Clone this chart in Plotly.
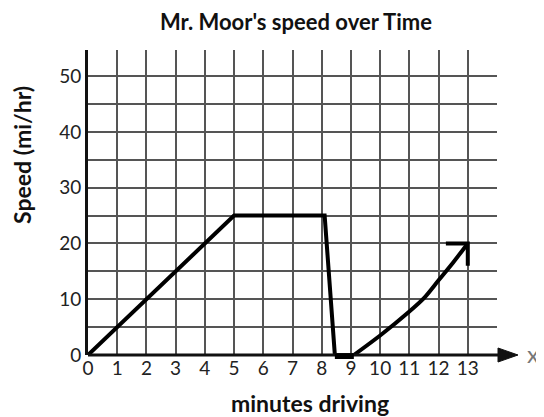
import plotly.graph_objects as go

# Data
minutes = [0, 5, 8.1, 8.45, 9.1, 10, 11, 11.5, 12, 12.5, 13]
speed = [0, 25, 25, 0, 0, 3.5, 7.8, 10.2, 13.4, 16.6, 20]
curve_start = 4  # index where the curved part begins (at 9.1 min)

x_ticks = list(range(0, 15))
x_tick_labels = [str(v) for v in range(0, 14)] + [""]
y_ticks = list(range(0, 55, 5))
y_tick_labels = [str(v) if v % 10 == 0 else "" for v in y_ticks]

FONT = "Lato"
OFF = 8  # default page margin of the html body
W, H = 544 - OFF, 417 - OFF
L, R, T, B = 88 - OFF, 47, 50 - OFF, 62
PW = W - L - R
PH = H - T - B


def px(xp):
    return (xp - OFF - L) / PW


def py(yp):
    return 1 - (yp - OFF - T) / PH


fig = go.Figure()

fig.add_trace(go.Scatter(
    x=minutes[:curve_start + 1], y=speed[:curve_start + 1], mode="lines",
    line=dict(color="black", width=4),
    hoverinfo="skip", showlegend=False,
))
fig.add_trace(go.Scatter(
    x=minutes[curve_start:], y=speed[curve_start:], mode="lines",
    line=dict(color="black", width=4, shape="spline", smoothing=0.8),
    hoverinfo="skip", showlegend=False,
))

# open arrowhead at the end of the curve
tx, ty = minutes[-1], speed[-1]
fig.add_trace(go.Scatter(
    x=[tx - 0.75, tx, tx], y=[ty, ty, ty - 4], mode="lines",
    line=dict(color="black", width=4),
    hoverinfo="skip", showlegend=False,
))

fig.update_layout(
    width=W, height=H,
    margin=dict(l=L, r=R, t=T, b=B),
    paper_bgcolor="white", plot_bgcolor="white",
    xaxis=dict(
        range=[0, 14], tickmode="array", tickvals=x_ticks, ticktext=x_tick_labels,
        showgrid=True, gridcolor="#555", gridwidth=2, zeroline=False,
        showline=False, ticks="", automargin=False,
        tickfont=dict(family=FONT, size=19, color="#222"),
    ),
    yaxis=dict(
        range=[0, 54.7], tickmode="array", tickvals=y_ticks, ticktext=y_tick_labels,
        showgrid=True, gridcolor="#555", gridwidth=2, zeroline=False,
        showline=True, linecolor="#111", linewidth=3, ticks="", automargin=False,
        tickfont=dict(family=FONT, size=19, color="#222"),
    ),
)

# titles
fig.add_annotation(text="<b>Mr. Moor's speed over Time</b>", xref="paper", yref="paper",
                   x=px(296), y=py(21), showarrow=False,
                   xanchor="center", yanchor="middle",
                   font=dict(family=FONT, size=22, color="#111"))
fig.add_annotation(text="<b>minutes driving</b>", xref="paper", yref="paper",
                   x=px(310), y=py(403), showarrow=False,
                   xanchor="center", yanchor="middle",
                   font=dict(family=FONT, size=23, color="#111"))
fig.add_annotation(text="<b>Speed (mi/hr)</b>", xref="paper", yref="paper",
                   x=px(22), y=py(155), showarrow=False,
                   xanchor="center", yanchor="middle", textangle=-90,
                   font=dict(family=FONT, size=23, color="#111"))

# x-axis line with arrow (paper coordinates so it can extend past the grid)
tip = px(518)
fig.add_shape(type="line", xref="paper", yref="paper", x0=0, x1=tip - 0.02, y0=0, y1=0,
              line=dict(color="#111", width=3), layer="above")
fig.add_shape(type="path", xref="paper", yref="paper",
              path=f"M {tip - 20/PW},{7/PH} L {tip},0 L {tip - 20/PW},{-7/PH} Z",
              fillcolor="#111", line=dict(color="#111", width=1), layer="above")
# the stopped segment, drawn thick over the axis
fig.add_shape(type="line", xref="x", yref="paper",
              x0=minutes[curve_start - 1], x1=minutes[curve_start],
              y0=-1.5 / PH, y1=-1.5 / PH,
              line=dict(color="black", width=5), layer="above")
fig.add_annotation(text="x", xref="paper", yref="paper", x=px(533), y=0.005,
                   showarrow=False, xanchor="center", yanchor="middle",
                   font=dict(family=FONT, size=24, color="#777"))

fig.write_html("out.html")
